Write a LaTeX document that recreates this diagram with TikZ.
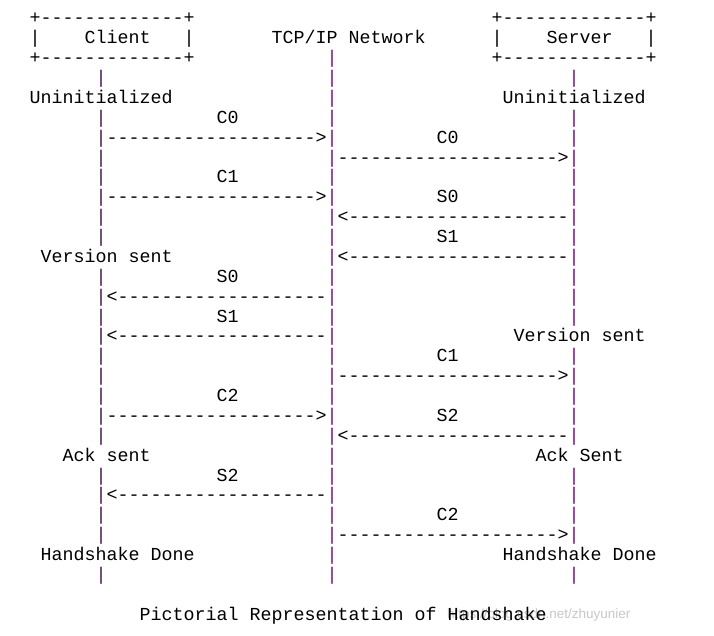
\documentclass[tikz,border=0pt]{standalone}
\usepackage{fontspec}
\setmonofont{Liberation Mono}
\newfontfamily\wmfont{Liberation Sans}
\definecolor{lifeA}{RGB}{70,20,80}
\definecolor{lifeB}{RGB}{125,10,130}
\tikzset{
  txt/.style={inner sep=0pt, anchor=base west, text=black,
    font=\ttfamily\fontsize{18.33}{20}\selectfont},
  lifeclient/.style={txt, text=lifeA},
  lifenet/.style={txt, text=lifeB},
}
\newcommand\cx[1]{-3.5+11*#1}
\newcommand\ry[1]{24+19.87*#1}
\newcommand\tx[5][txt]{\node[#1] (#2) at ({\cx{#3}},{\ry{#4}}) {#5};}
\begin{document}
\begin{tikzpicture}[x=1pt,y=-1pt]
\useasboundingbox (0,0) rectangle (714,636);
% watermark
\node[inner sep=0pt, anchor=base west, text=black!22, font=\wmfont\fontsize{13.5}{14}\selectfont] (wm) at (447,618) {https://blog.csdn.net/zhuyunier};
% boxes
\tx{cbt}{3}{0}{+-------------+}
\tx{sbt}{45}{0}{+-------------+}
\tx{cbl}{3}{1}{|}
\tx{cname}{8}{1}{Client}
\tx{cbr}{17}{1}{|}
\tx{nname}{25}{1}{TCP/IP Network}
\tx{sbl}{45}{1}{|}
\tx{sname}{50}{1}{Server}
\tx{sbr}{59}{1}{|}
\tx{cbb}{3}{2}{+-------------+}
\tx{sbb}{45}{2}{+-------------+}
% lifelines
\foreach \r in {3,5,6,7,8,9,10,11,13,14,15,16,17,18,19,20,21,23,24,25,26,28}
  {\tx[lifeclient]{cl\r}{9}{\r}{|}}
\foreach \r in {2,...,28}
  {\tx[lifenet]{nl\r}{30}{\r}{|}}
\foreach \r in {3,5,6,7,8,9,10,11,12,13,14,15,17,18,19,20,21,23,24,25,26,28}
  {\tx[lifenet]{sl\r}{52}{\r}{|}}
% states
\tx{cu}{3}{4}{Uninitialized}
\tx{su}{46}{4}{Uninitialized}
\tx{cv}{4}{12}{Version sent}
\tx{sv}{47}{16}{Version sent}
\tx{ca}{6}{22}{Ack sent}
\tx{sa}{49}{22}{Ack Sent}
\tx{cd}{4}{27}{Handshake Done}
\tx{sd}{46}{27}{Handshake Done}
% messages client <-> network
\tx{lc0}{20}{5}{C0}
\tx{ac0}{10}{6}{------------------->}
\tx{lc1}{20}{8}{C1}
\tx{ac1}{10}{9}{------------------->}
\tx{ls0}{20}{13}{S0}
\tx{as0}{10}{14}{<-------------------}
\tx{ls1}{20}{15}{S1}
\tx{as1}{10}{16}{<-------------------}
\tx{lc2}{20}{19}{C2}
\tx{ac2}{10}{20}{------------------->}
\tx{ls2}{20}{23}{S2}
\tx{as2}{10}{24}{<-------------------}
% messages network <-> server
\tx{mc0}{40}{6}{C0}
\tx{bc0}{31}{7}{-------------------->}
\tx{ms0}{40}{9}{S0}
\tx{bs0}{31}{10}{<--------------------}
\tx{ms1}{40}{11}{S1}
\tx{bs1}{31}{12}{<--------------------}
\tx{mc1}{40}{17}{C1}
\tx{bc1}{31}{18}{-------------------->}
\tx{ms2}{40}{20}{S2}
\tx{bs2}{31}{21}{<--------------------}
\tx{mc2}{40}{25}{C2}
\tx{bc2}{31}{26}{-------------------->}
% caption
\tx{cap}{13}{30}{Pictorial Representation of Handshake}
\end{tikzpicture}
\end{document}
